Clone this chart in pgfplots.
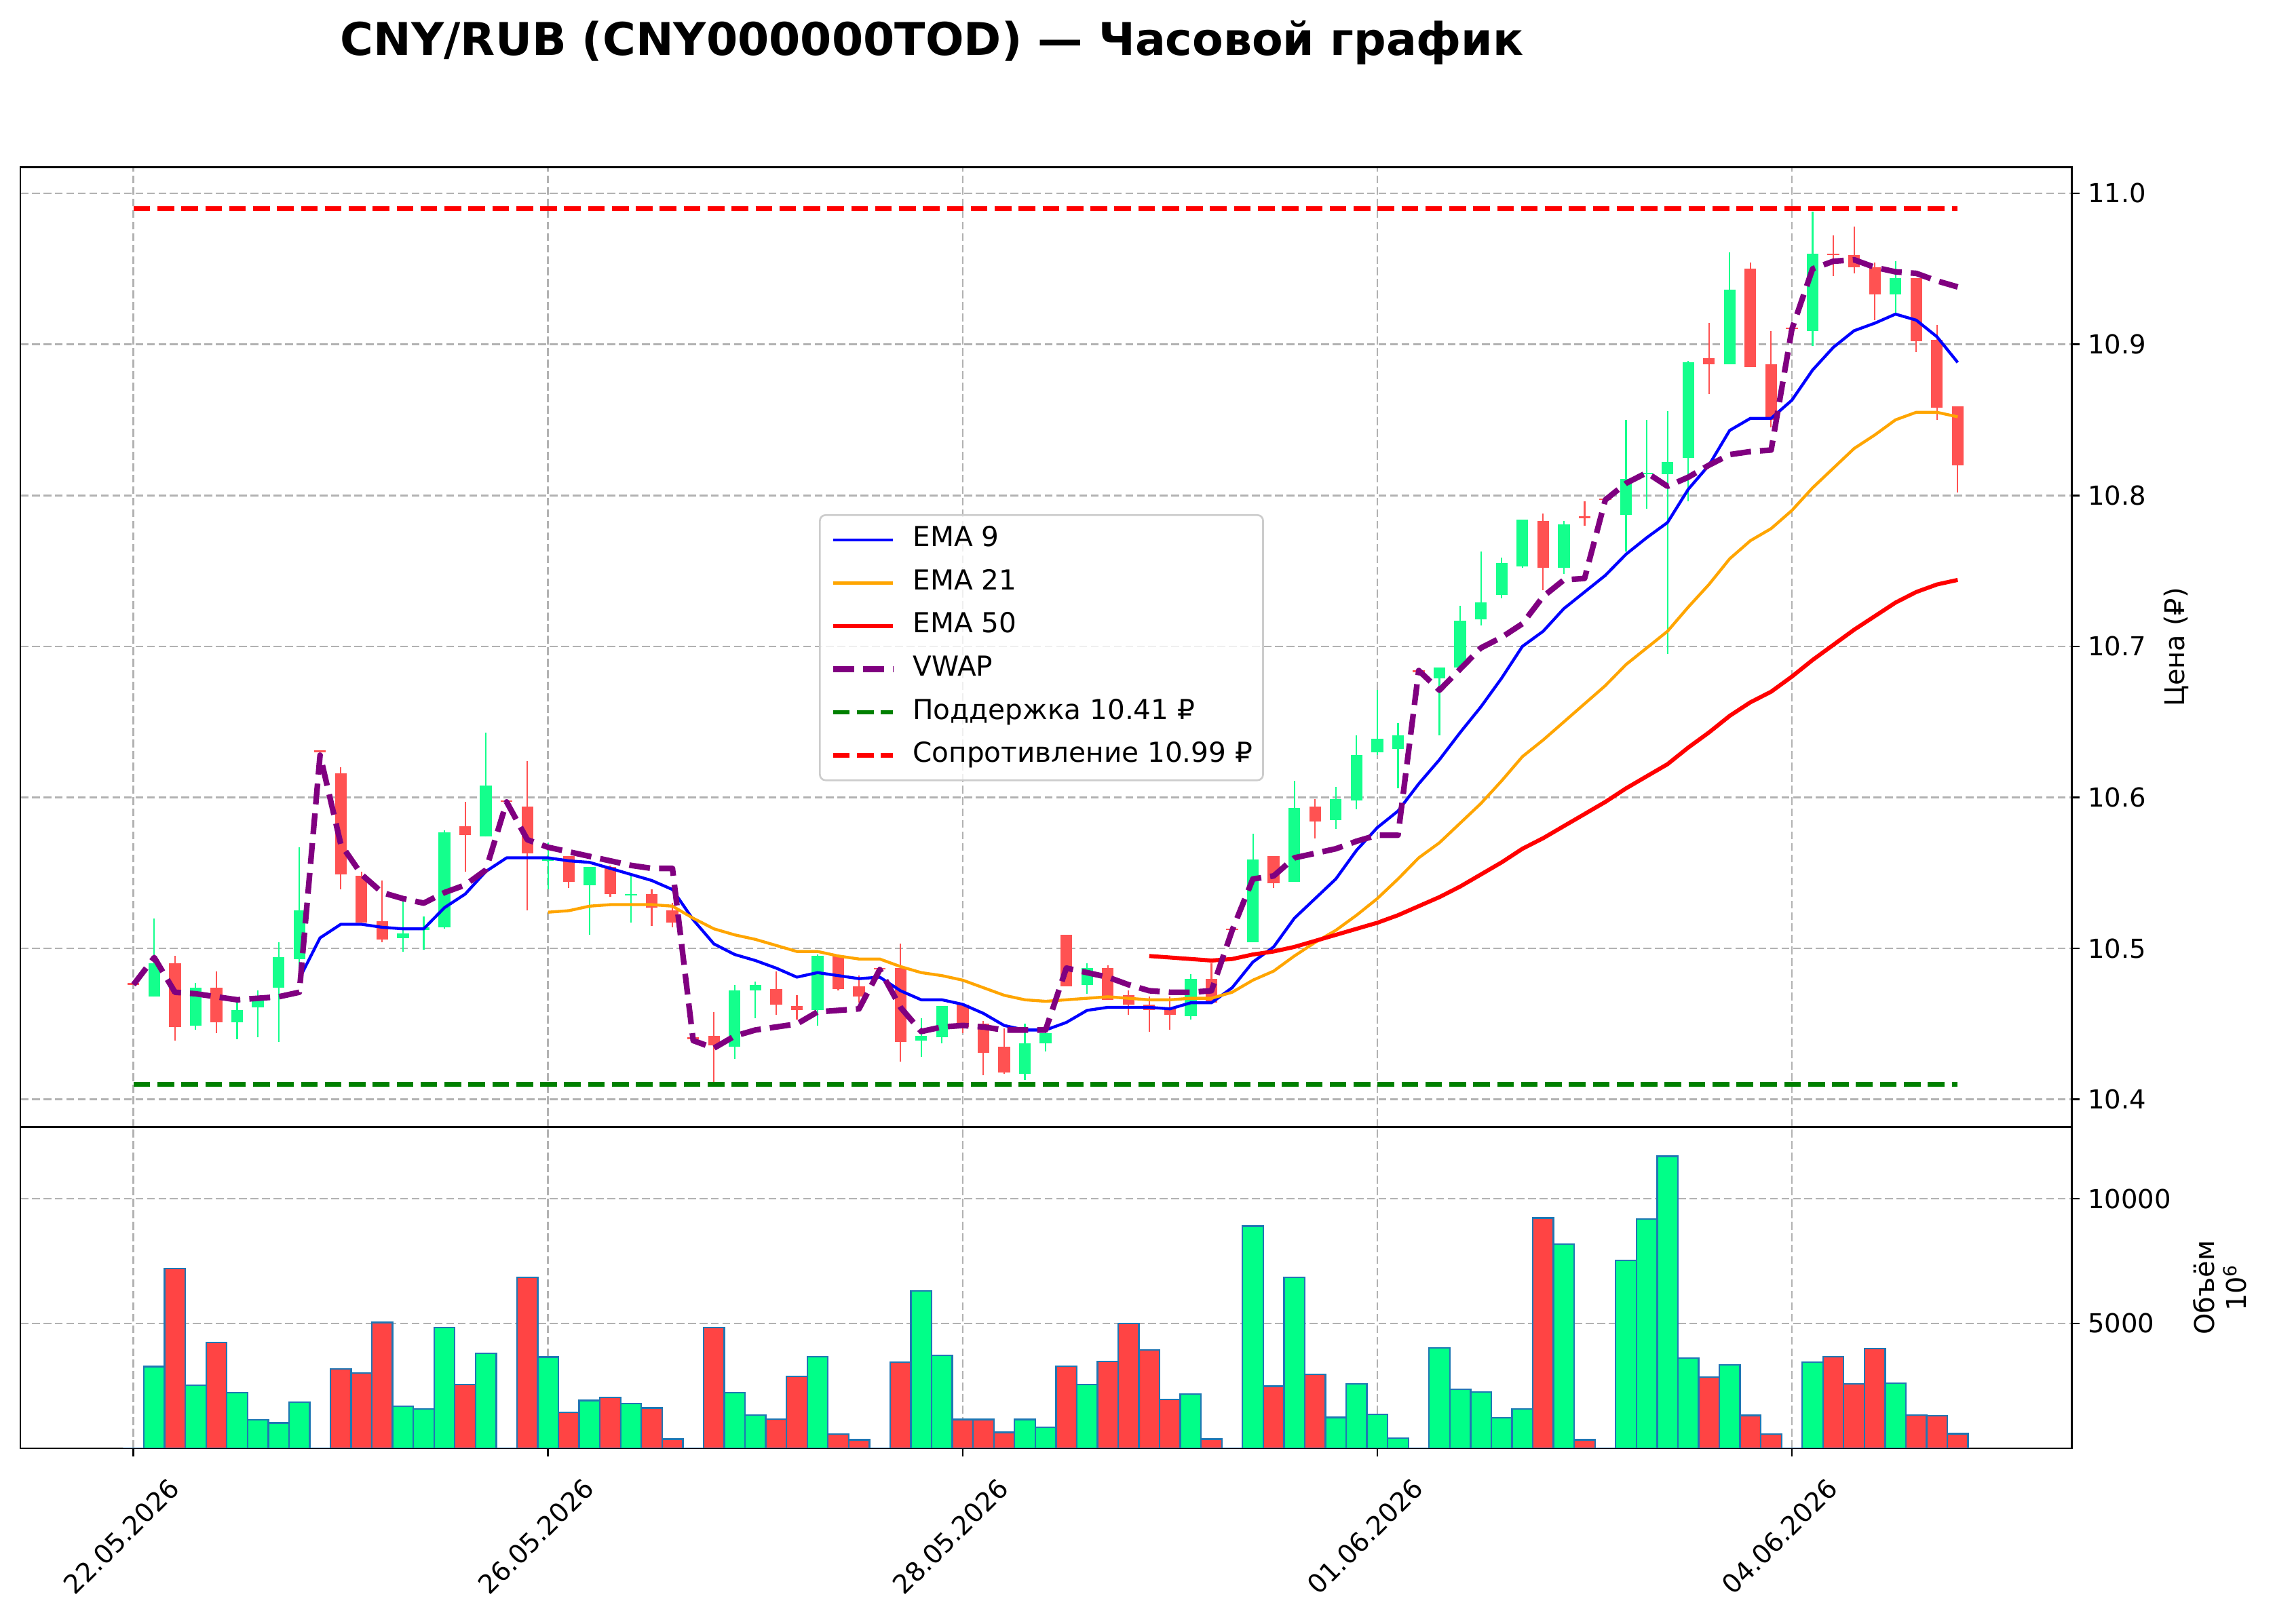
\documentclass[border=0pt]{standalone}
\usepackage{pgfplots}
\pgfplotsset{compat=1.18}
\usepackage{pgfplotstable}
\usepackage{fontspec}
\setmainfont{DejaVu Sans}

\definecolor{cgreen}{RGB}{20,255,140}
\definecolor{cred}{RGB}{255,82,82}
\definecolor{vgreen}{RGB}{0,255,136}
\definecolor{vred}{RGB}{255,68,68}
\definecolor{vedge}{RGB}{31,119,180}
\definecolor{corange}{RGB}{255,165,0}
\definecolor{cpurple}{RGB}{128,0,128}
\definecolor{cdgreen}{RGB}{0,128,0}
\definecolor{gridc}{RGB}{178,178,178}
\definecolor{legc}{RGB}{204,204,204}

\pgfplotstableread{
i o h l c
1 10.468 10.520 10.468 10.490
3 10.449 10.477 10.446 10.474
5 10.451 10.464 10.440 10.459
6 10.461 10.472 10.441 10.468
7 10.474 10.504 10.438 10.494
8 10.493 10.567 10.484 10.525
13 10.507 10.531 10.498 10.510
14 10.512 10.521 10.499 10.514
15 10.514 10.578 10.513 10.577
17 10.574 10.643 10.574 10.608
20 10.558 10.570 10.539 10.560
22 10.542 10.554 10.509 10.554
24 10.535 10.548 10.517 10.536
29 10.435 10.476 10.427 10.472
30 10.472 10.478 10.454 10.476
33 10.459 10.496 10.449 10.495
38 10.439 10.454 10.428 10.442
39 10.441 10.462 10.437 10.462
43 10.417 10.450 10.413 10.437
44 10.437 10.448 10.432 10.444
46 10.476 10.490 10.470 10.487
51 10.455 10.483 10.453 10.480
54 10.504 10.576 10.504 10.559
56 10.544 10.611 10.544 10.593
58 10.585 10.607 10.579 10.599
59 10.598 10.641 10.592 10.628
60 10.630 10.671 10.628 10.639
61 10.632 10.649 10.606 10.641
63 10.679 10.686 10.641 10.686
64 10.686 10.727 10.686 10.717
65 10.718 10.763 10.714 10.729
66 10.734 10.759 10.732 10.755
67 10.753 10.784 10.752 10.784
69 10.752 10.783 10.748 10.781
72 10.787 10.850 10.763 10.811
73 10.814 10.850 10.791 10.815
74 10.814 10.856 10.695 10.822
75 10.825 10.889 10.796 10.888
77 10.887 10.961 10.887 10.936
81 10.909 10.988 10.899 10.960
85 10.933 10.955 10.921 10.944
}\greencandles

\pgfplotstableread{
i o h l c
0 10.476 10.476 10.476 10.476
2 10.490 10.495 10.439 10.448
4 10.474 10.485 10.444 10.451
9 10.630 10.630 10.630 10.630
10 10.616 10.620 10.539 10.549
11 10.548 10.551 10.517 10.517
12 10.518 10.545 10.504 10.506
16 10.581 10.597 10.551 10.575
18 10.597 10.597 10.597 10.597
19 10.594 10.624 10.525 10.563
21 10.561 10.561 10.540 10.544
23 10.554 10.555 10.534 10.536
25 10.536 10.539 10.515 10.527
26 10.525 10.530 10.514 10.517
27 10.440 10.440 10.440 10.440
28 10.442 10.458 10.411 10.436
31 10.473 10.485 10.456 10.463
32 10.462 10.469 10.453 10.459
34 10.495 10.496 10.472 10.473
35 10.475 10.482 10.464 10.468
36 10.486 10.486 10.486 10.486
37 10.487 10.503 10.425 10.438
40 10.463 10.463 10.444 10.448
41 10.450 10.452 10.416 10.431
42 10.435 10.447 10.417 10.418
45 10.509 10.509 10.475 10.475
47 10.487 10.489 10.466 10.466
48 10.469 10.472 10.456 10.463
49 10.463 10.468 10.445 10.459
50 10.461 10.468 10.446 10.456
52 10.480 10.490 10.464 10.464
53 10.512 10.512 10.512 10.512
55 10.561 10.561 10.540 10.543
57 10.594 10.599 10.573 10.584
62 10.683 10.683 10.683 10.683
68 10.783 10.788 10.737 10.752
70 10.786 10.796 10.780 10.785
71 10.797 10.797 10.797 10.797
76 10.891 10.914 10.867 10.887
78 10.950 10.954 10.885 10.885
79 10.887 10.909 10.845 10.850
80 10.910 10.910 10.910 10.910
82 10.960 10.972 10.945 10.959
83 10.959 10.978 10.947 10.951
84 10.951 10.954 10.916 10.933
86 10.944 10.944 10.895 10.902
87 10.903 10.913 10.850 10.858
88 10.859 10.859 10.802 10.820
}\redcandles

\pgfplotstableread{
i v
8 10.480
9 10.507
10 10.516
11 10.516
12 10.514
13 10.513
14 10.513
15 10.527
16 10.536
17 10.551
18 10.560
19 10.560
20 10.560
21 10.558
22 10.557
23 10.553
24 10.549
25 10.545
26 10.539
27 10.519
28 10.503
29 10.496
30 10.492
31 10.487
32 10.481
33 10.484
34 10.482
35 10.480
36 10.481
37 10.472
38 10.466
39 10.466
40 10.463
41 10.457
42 10.449
43 10.446
44 10.446
45 10.451
46 10.459
47 10.461
48 10.461
49 10.461
50 10.460
51 10.464
52 10.464
53 10.474
54 10.491
55 10.501
56 10.520
57 10.533
58 10.546
59 10.565
60 10.580
61 10.591
62 10.609
63 10.625
64 10.643
65 10.660
66 10.679
67 10.700
68 10.710
69 10.725
70 10.736
71 10.747
72 10.761
73 10.772
74 10.782
75 10.804
76 10.820
77 10.843
78 10.851
79 10.851
80 10.863
81 10.883
82 10.898
83 10.909
84 10.914
85 10.920
86 10.916
87 10.905
88 10.888
}\emaA

\pgfplotstableread{
i v
20 10.524
21 10.525
22 10.528
23 10.529
24 10.529
25 10.529
26 10.528
27 10.520
28 10.513
29 10.509
30 10.506
31 10.502
32 10.498
33 10.498
34 10.495
35 10.493
36 10.493
37 10.488
38 10.484
39 10.482
40 10.479
41 10.474
42 10.469
43 10.466
44 10.465
45 10.466
46 10.467
47 10.468
48 10.467
49 10.466
50 10.466
51 10.467
52 10.467
53 10.471
54 10.479
55 10.485
56 10.495
57 10.504
58 10.512
59 10.522
60 10.533
61 10.546
62 10.560
63 10.570
64 10.583
65 10.596
66 10.611
67 10.627
68 10.638
69 10.650
70 10.662
71 10.674
72 10.688
73 10.699
74 10.710
75 10.726
76 10.741
77 10.758
78 10.770
79 10.778
80 10.790
81 10.805
82 10.818
83 10.831
84 10.840
85 10.850
86 10.855
87 10.855
88 10.852
}\emaB

\pgfplotstableread{
i v
49 10.495
50 10.494
51 10.493
52 10.492
53 10.493
54 10.496
55 10.498
56 10.501
57 10.505
58 10.509
59 10.513
60 10.517
61 10.522
62 10.528
63 10.534
64 10.541
65 10.549
66 10.557
67 10.566
68 10.573
69 10.581
70 10.589
71 10.597
72 10.606
73 10.614
74 10.622
75 10.633
76 10.643
77 10.654
78 10.663
79 10.670
80 10.680
81 10.691
82 10.701
83 10.711
84 10.720
85 10.729
86 10.736
87 10.741
88 10.744
}\emaC

\pgfplotstableread{
i v
0 10.476
1 10.494
2 10.471
3 10.470
4 10.468
5 10.466
6 10.467
7 10.468
8 10.471
9 10.628
10 10.569
11 10.549
12 10.537
13 10.533
14 10.530
15 10.537
16 10.542
17 10.552
18 10.597
19 10.572
20 10.567
21 10.564
22 10.561
23 10.558
24 10.555
25 10.553
26 10.553
27 10.439
28 10.434
29 10.442
30 10.446
31 10.448
32 10.450
33 10.458
34 10.459
35 10.460
36 10.486
37 10.461
38 10.445
39 10.448
40 10.449
41 10.448
42 10.446
43 10.446
44 10.446
45 10.487
46 10.484
47 10.481
48 10.476
49 10.472
50 10.471
51 10.471
52 10.472
53 10.512
54 10.546
55 10.548
56 10.560
57 10.563
58 10.566
59 10.571
60 10.575
61 10.575
62 10.684
63 10.671
64 10.685
65 10.699
66 10.706
67 10.715
68 10.733
69 10.744
70 10.745
71 10.797
72 10.808
73 10.815
74 10.806
75 10.812
76 10.820
77 10.827
78 10.829
79 10.830
80 10.910
81 10.950
82 10.955
83 10.956
84 10.951
85 10.948
86 10.947
87 10.942
88 10.938
}\vwap

\pgfplotstableread{
i v
1 3272
3 2522
5 2233
6 1130
7 1012
8 1853
13 1690
14 1582
15 4836
17 3806
20 3652
22 1916
24 1799
29 2233
30 1329
33 3670
38 6301
39 3724
43 1148
44 832
46 2549
51 2170
54 8904
56 6843
58 1238
59 2576
60 1356
61 407
63 4014
64 2368
65 2260
66 1220
67 1573
69 8172
72 7521
73 9176
74 11698
75 3616
77 3345
81 3453
85 2613
}\volgreen

\pgfplotstableread{
i v
0 0
2 7205
4 4240
9 0
10 3182
11 3019
12 5035
16 2549
18 0
19 6843
21 1446
23 2043
25 1618
26 362
27 0
28 4827
31 1166
32 2884
34 560
35 334
36 0
37 3453
40 1148
41 1148
42 633
45 3290
47 3480
48 4990
49 3932
50 1962
52 362
53 0
55 2486
57 2956
62 0
68 9230
70 334
71 0
76 2848
78 1311
79 560
80 0
82 3661
83 2576
84 3996
86 1329
87 1302
88 579
}\volred

\pgfplotsset{
  common/.style={
    scale only axis,
    width=909pt,
    xmin=-5.46, xmax=93.51,
    xtick={0,20,40,60,80},
    xmajorgrids,
    ymajorgrids,
    grid style={gridc, line width=0.8pt, dash pattern=on 3.5pt off 1.6pt},
    axis line style={line width=0.8pt},
    tick style={line width=0.8pt, black},
    major tick length=3.5pt,
    tick align=outside,
    ytick pos=right,
    yticklabel pos=right,
    tick label style={font=\fontsize{11.6}{13}\selectfont},
    /pgf/number format/assume math mode=true,
  },
  candlewick/.style={draw=none, no markers, mark size=0pt, forget plot,
    error bars/.cd, y dir=plus, y explicit, error mark=none,
    error bar style={line width=0.65pt, draw=#1, solid}},
  candlebody/.style={draw=none, no markers, mark size=0pt, forget plot,
    error bars/.cd, y dir=plus, y explicit, error mark=none,
    error bar style={line width=5.2pt, draw=#1, solid, line cap=butt}},
}

\begin{document}
\begin{tikzpicture}
\useasboundingbox (0,0) rectangle (1008pt,719.4pt);

\node[anchor=base, font=\bfseries\fontsize{20}{24}\selectfont] at (413pt,694.8pt) {CNY/RUB (CNY000000TOD) — Часовой график};

\begin{axis}[common,
  at={(9pt,219.9pt)}, anchor=south west,
  height=425.4pt,
  ymin=10.3817, ymax=11.0173,
  ytick={10.4,10.5,10.6,10.7,10.8,10.9,11.0},
  yticklabel style={/pgf/number format/.cd, fixed, fixed zerofill, precision=1},
  xticklabels={},
  xtick style={draw=none},
  ylabel={Цена (₽)},
  every axis y label/.style={at={(axis description cs:1.0509,0.5)}, anchor=center, rotate=90, font=\fontsize{12}{14}\selectfont},
  legend style={at={(0.3893,0.6385)}, anchor=north west,
    font=\fontsize{12.2}{14}\selectfont,
    draw=legc, line width=0.8pt, rounded corners=2.5pt,
    fill=white, fill opacity=0.8, text opacity=1, draw opacity=1,
    inner xsep=4.6pt, inner ysep=5pt,
    row sep=7.1pt,
    nodes={inner sep=0pt, text height=9pt, text depth=3pt},
    /tikz/every odd column/.append style={column sep=7.5pt}},
  legend cell align=left,
  legend image code/.code={\draw[#1] (0pt,0pt) -- (26.6pt,0pt);},
]
% candles
\addplot[candlewick=cgreen] table[x=i, y=l, y error plus expr={\thisrow{h}-\thisrow{l}}] {\greencandles};
\addplot[candlebody=cgreen] table[x=i, y=o, y error plus expr={max(\thisrow{c}-\thisrow{o},0.001)}] {\greencandles};
\addplot[candlewick=cred] table[x=i, y=l, y error plus expr={\thisrow{h}-\thisrow{l}}] {\redcandles};
\addplot[candlebody=cred] table[x=i, y=c, y error plus expr={max(\thisrow{o}-\thisrow{c},0.001)}] {\redcandles};

\addplot[blue, line width=1.3pt, line join=round] table[x=i, y=v] {\emaA};
\addlegendentry{EMA 9}
\addplot[corange, line width=1.3pt, line join=round] table[x=i, y=v] {\emaB};
\addlegendentry{EMA 21}
\addplot[red, line width=1.8pt, line join=round] table[x=i, y=v] {\emaC};
\addlegendentry{EMA 50}
\addplot[cpurple, line width=2.5pt, line join=round, dash pattern=on 9.25pt off 4pt] table[x=i, y=v] {\vwap};
\addlegendentry{VWAP}
\addplot[cdgreen, line width=2pt, dash pattern=on 7.4pt off 3.2pt] coordinates {(0,10.41) (88,10.41)};
\addlegendentry{Поддержка 10.41 ₽}
\addplot[red, line width=2pt, dash pattern=on 7.4pt off 3.2pt] coordinates {(0,10.99) (88,10.99)};
\addlegendentry{Сопротивление 10.99 ₽}
\end{axis}

\begin{axis}[common,
  at={(9pt,77.6pt)}, anchor=south west,
  height=142.3pt,
  ymin=0, ymax=12868,
  ytick={5000,10000},
  scaled y ticks=false,
  yticklabel style={/pgf/number format/.cd, fixed, 1000 sep={}},
  xtick pos=bottom,
  xticklabels={22.05.2026,26.05.2026,28.05.2026,01.06.2026,04.06.2026},
  xticklabel style={xshift=15pt, yshift=-4pt, rotate=45, anchor=north east},
  ylabel={Объём\\10\textsuperscript{6}},
  every axis y label/.style={at={(axis description cs:1.0722,0.5)}, anchor=center, rotate=90, align=center, font=\fontsize{12}{14}\selectfont},
]
\addplot[ybar, bar width=1, fill=vgreen, draw=vedge, line width=0.7pt] table[x=i, y=v] {\volgreen};
\addplot[ybar, bar width=1, fill=vred, draw=vedge, line width=0.7pt] table[x=i, y=v] {\volred};
\end{axis}
\end{tikzpicture}
\end{document}
